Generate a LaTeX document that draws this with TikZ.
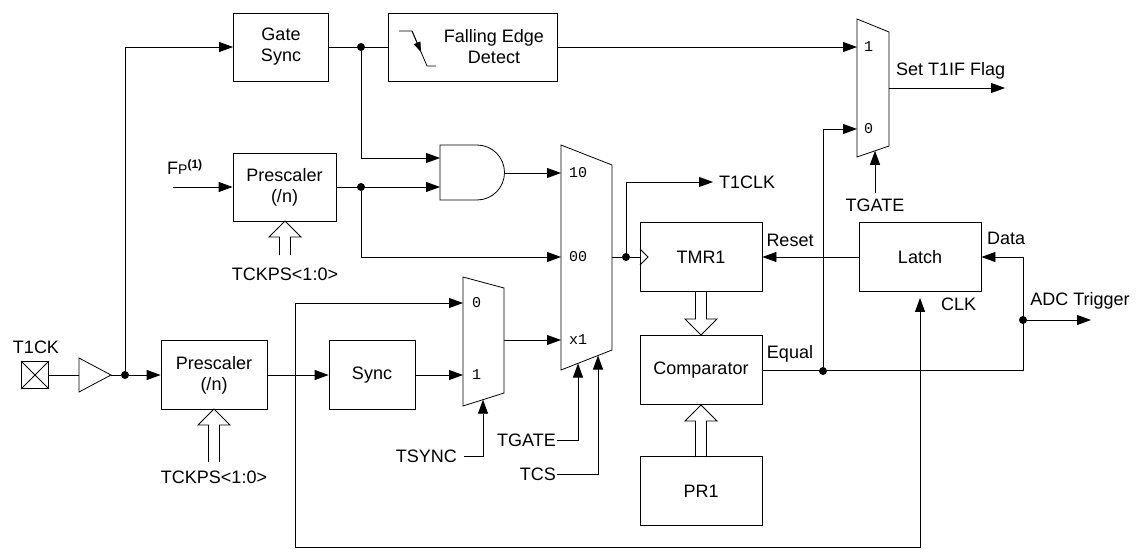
\documentclass[tikz,border=0pt]{standalone}
\usepackage{fontspec}
\setmainfont{Liberation Sans}
\setmonofont{Liberation Mono}
\usetikzlibrary{arrows.meta,positioning,calc}

\tikzset{
  blk/.style={draw, thick, minimum width=122pt, minimum height=69pt, align=center, inner sep=0pt, font=\fontsize{18}{21}\selectfont},
  arr/.style={thick, -{Triangle[length=14pt,width=10pt]}},
  lbl/.style={inner sep=1pt, font=\fontsize{18}{21}\selectfont},
  mlbl/.style={inner sep=0pt, font=\ttfamily\fontsize{15}{17}\selectfont},
  dot/.style={circle, fill, inner sep=0pt, minimum size=8pt}
}
% hollow arrow: x, tail y, tip y
\newcommand\fatarr[3]{%
  \draw[thick] ($(#1,#2)+(-5.5,0)$) -- ($(#1,#3)!16pt!(#1,#2)+(-5.5,0)$) -- ($(#1,#3)!16pt!(#1,#2)+(-16,0)$) -- (#1,#3)
    -- ($(#1,#3)!16pt!(#1,#2)+(16,0)$) -- ($(#1,#3)!16pt!(#1,#2)+(5.5,0)$) -- ($(#1,#2)+(5.5,0)$);}

\begin{document}
\begin{tikzpicture}[x=1pt,y=-1pt,line join=miter]
\useasboundingbox (0,0) rectangle (1137,556);

% blocks
\node[blk, minimum width=95pt, minimum height=68pt] (gsync) at (281,47) {Gate\\Sync};
\node[blk, minimum width=169pt, minimum height=68pt] (fed) at (472.5,47) {};
\node[lbl, align=center] at (494,47) {Falling Edge\\Detect};
\node[blk, minimum width=103pt, minimum height=68pt] (pre1) at (284.5,187) {Prescaler\\(/n)};
\node[blk, minimum width=106pt, minimum height=69pt] (pre2) at (214,375) {Prescaler\\(/n)};
\node[blk, minimum width=86pt, minimum height=69pt] (sync) at (372,375) {Sync};
\node[blk] (tmr) at (701,257) {TMR1};
\node[blk] (latch) at (920,257) {Latch};
\node[blk] (cmp) at (701,370) {Comparator};
\node[blk] (pr) at (701,491) {PR1};

% falling edge symbol
\draw[thick] (399,31) -- (412,31) -- (427,66) -- (436,66);
\draw[thick, -{Triangle[length=10pt,width=7pt]}] (412,31) -- (421,52);

% AND gate
\draw[thick] (440,145) -- (477,145) arc[start angle=-90, end angle=90, radius=27.5] -- (440,200) -- cycle;
\coordinate (and1) at (440,158);
\coordinate (and2) at (440,187);
\coordinate (ando) at (504.5,173);

% multiplexers
\draw[thick] (561,145) -- (612,165) -- (612,350) -- (561,370) -- cycle;
\draw[thick] (463,277) -- (504,288) -- (504,393) -- (463,406) -- cycle;
\draw[thick] (857,19) -- (889,32) -- (889,146) -- (857,157) -- cycle;
\coordinate (m1a) at (561,173);
\coordinate (m1b) at (561,257);
\coordinate (m1c) at (561,340);
\coordinate (m1o) at (612,257);
\coordinate (m1s) at (578,363.5);
\coordinate (m1t) at (598,355.5);
\coordinate (m3a) at (463,303);
\coordinate (m3b) at (463,375);
\coordinate (m3o) at (504,340);
\coordinate (m3s) at (483,399.7);
\coordinate (m2a) at (857,47);
\coordinate (m2b) at (857,129);
\coordinate (m2o) at (889,88);
\coordinate (m2s) at (875,150.8);
\node[mlbl, anchor=west] at (569,173) {10};
\node[mlbl, anchor=west] at (569,257) {00};
\node[mlbl, anchor=west] at (569,340) {x1};
\node[mlbl, anchor=west] at (472,303) {0};
\node[mlbl, anchor=west] at (472,375) {1};
\node[mlbl, anchor=west] at (864,47) {1};
\node[mlbl, anchor=west] at (864,129) {0};

% input pin and buffer
\node[draw, thick, minimum size=27pt, inner sep=0pt] (pin) at (35,375) {};
\draw[thick] (pin.north west) -- (pin.south east) (pin.north east) -- (pin.south west);
\node[lbl] at (36,347) {T1CK};
\draw[thick] (79,358) -- (111,375) -- (79,392) -- cycle;
\coordinate (bufi) at (79,375);
\coordinate (bufo) at (111,375);

% junctions
\node[dot] (jA) at (125,375) {};
\node[dot] (jB) at (361,47) {};
\node[dot] (jC) at (361,187) {};
\coordinate (jD) at (295,375);
\node[dot] (jE) at (626,257) {};
\node[dot] (jF) at (823,371) {};
\node[dot] (jG) at (1023,320) {};

% connectors
\draw[thick] (pin.east) -- (bufi);
\draw[thick] (bufo) -- (jA);
\draw[arr] (jA) -- (pre2.west);
\draw[arr] (jA) |- (gsync.west);
\draw[thick] (gsync.east) -- (fed.west);
\draw[arr] (fed.east) -- (m2a);
\draw[arr] (jB) |- (and1);
\coordinate (fp) at (173,187);
\node[lbl, anchor=south west] at (166,176) {F{\fontsize{14}{14}\selectfont P}$^{\textbf{\fontsize{12}{12}\selectfont(1)}}$};
\draw[arr] (fp) -- (pre1.west);
\draw[arr] (pre1.east) -- (and2);
\draw[arr] (jC) |- (m1b);
\draw[arr] (ando) -- (m1a);
\draw[arr] (pre2.east) -- (sync.west);
\draw[arr] (sync.east) -- (m3b);
\draw[arr] (jD) |- (m3a);
\draw[arr] (m3o) -- (m1c);
\coordinate (lb) at (920,547);
\draw[arr, shorten >=6pt] (jD) |- (lb) -- (latch.south);
\node[lbl, anchor=west] at (940,304) {CLK};

\node[lbl, anchor=east] (tsync) at (458,456) {TSYNC};
\node[lbl, anchor=east] (tgate) at (557,440) {TGATE};
\node[lbl, anchor=east] (tcs) at (557,474) {TCS};
\draw[arr] ($(tsync.east)+(6,0)$) -| (m3s);
\draw[arr] (tgate.east) -| (m1s);
\draw[arr] (tcs.east) -| (m1t);

\draw[thick] (m1o) -- (jE);
\draw[thick] (jE) -- (tmr.west);
\draw[thick] (640,249) -- (648,257) -- (640,265);
\coordinate (t1clk) at (713,182);
\draw[arr] (jE) |- (t1clk);
\node[lbl, anchor=west] at (718,182) {T1CLK};

\draw[arr] (latch.west) -- (tmr.east);
\node[lbl] at (790,240) {Reset};
\draw[thick] (cmp.east) -| (jG);
\node[lbl] at (790,354) {Equal};
\draw[arr] (jG) |- (latch.east);
\node[lbl] at (1006,238) {Data};
\coordinate (adc) at (1091,320);
\draw[arr] (jG) -- (adc);
\node[lbl, anchor=south] at (1080,310) {ADC Trigger};
\draw[arr] (jF) |- (m2b);

\coordinate (t1if) at (1005,88);
\draw[arr] (m2o) -- (t1if);
\node[lbl, anchor=west] at (895,71) {Set T1IF Flag};
\coordinate (tg2) at (875,193);
\draw[arr] (tg2) -- (m2s);
\node[lbl] at (875,205) {TGATE};

% bus arrows
\fatarr{285}{255}{221}
\node[lbl] at (285,274) {TCKPS<1:0>};
\fatarr{214}{462}{409}
\node[lbl] at (214,477) {TCKPS<1:0>};
\fatarr{701}{292}{335}
\fatarr{701}{457}{405}
\end{tikzpicture}
\end{document}
